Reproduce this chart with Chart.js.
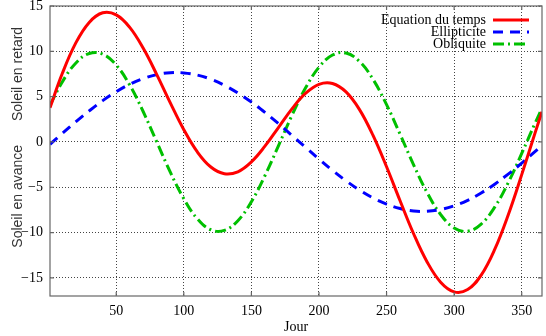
<!DOCTYPE html>
<html>
<head>
<meta charset="utf-8">
<script src="https://cdn.jsdelivr.net/npm/chart.js@4/dist/chart.umd.min.js"></script>
<style>
html,body{margin:0;padding:0;background:#fff;}
#wrap{width:546px;height:336px;}
</style>
</head>
<body>
<div id="wrap"><canvas id="c" width="546" height="336"></canvas></div>
<script>
const days = [1,10,20,30,40,50,60,70,80,90,100,110,120,130,140,150,160,170,180,190,200,210,220,230,240,250,260,270,280,290,300,310,320,330,340,350,360,365];
const equationDuTemps = [3.78,7.52,10.90,13.19,14.25,14.02,12.64,10.33,7.43,4.31,1.35,-1.10,-2.77,-3.51,-3.29,-2.20,-0.47,1.59,3.65,5.35,6.36,6.45,5.52,3.57,0.72,-2.74,-6.49,-10.13,-13.24,-15.47,-16.54,-16.29,-14.69,-11.86,-8.05,-3.61,1.06,3.33];
const ellipticite = [-0.26,0.92,2.21,3.43,4.56,5.54,6.37,7.00,7.43,7.64,7.62,7.38,6.92,6.25,5.40,4.40,3.26,2.02,0.72,-0.59,-1.89,-3.14,-4.29,-5.31,-6.18,-6.86,-7.34,-7.61,-7.65,-7.46,-7.05,-6.44,-5.63,-4.66,-3.55,-2.34,-1.05,-0.40];
const obliquite = [4.04,6.60,8.69,9.76,9.69,8.48,6.27,3.33,0,-3.33,-6.27,-8.48,-9.69,-9.76,-8.69,-6.60,-3.73,-0.43,2.93,5.94,8.25,9.59,9.81,8.88,6.90,4.12,0.85,-2.52,-5.59,-8.01,-9.49,-9.85,-9.06,-7.20,-4.50,-1.27,2.11,3.73];
const xTicks = [50,100,150,200,250,300,350];
const yTicks = [-15,-10,-5,0,5,10,15];
const seriesLabels = ['Equation du temps','Ellipticite','Obliquite'];
const xTitle = 'Jour';
const yTitles = ['Soleil en retard','Soleil en avance'];

const serif = "'Liberation Serif','DejaVu Serif',serif";
const sans = "'Liberation Sans','DejaVu Sans',sans-serif";
const pts = arr => arr.map((v,i)=>({x:days[i], y:v}));

const frame = {
  id:'frame',
  afterDatasetsDraw(chart){
    const {ctx, chartArea:a, scales:{x,y}} = chart;
    ctx.save();
    ctx.strokeStyle = '#666';
    ctx.lineWidth = 1.2;
    ctx.setLineDash([]);
    ctx.strokeRect(a.left, a.top, a.right-a.left, a.bottom-a.top);
    ctx.beginPath();
    const t = 4;
    xTicks.forEach(v=>{const px=x.getPixelForValue(v);
      ctx.moveTo(px,a.bottom);ctx.lineTo(px,a.bottom-t);
      ctx.moveTo(px,a.top);ctx.lineTo(px,a.top+t);});
    yTicks.forEach(v=>{const py=y.getPixelForValue(v);
      ctx.moveTo(a.left,py);ctx.lineTo(a.left+t,py);
      ctx.moveTo(a.right,py);ctx.lineTo(a.right-t,py);});
    ctx.stroke();
    // y titles
    ctx.fillStyle = '#333';
    ctx.font = '14px ' + sans;
    ctx.textAlign = 'center';
    ctx.textBaseline = 'middle';
    const yc = [y.getPixelForValue(7.5), y.getPixelForValue(-6)];
    yTitles.forEach((s,i)=>{
      ctx.save(); ctx.translate(18, yc[i]); ctx.rotate(-Math.PI/2);
      ctx.fillText(s,0,0); ctx.restore();
    });
    // legend
    const ds = chart.data.datasets;
    ctx.font = '14px ' + serif;
    ctx.textAlign = 'right';
    ctx.fillStyle = '#000';
    ds.forEach((d,i)=>{
      const yy = a.top + 14 + i*12;
      ctx.fillText(d.label, 486, yy);
      ctx.strokeStyle = d.borderColor;
      ctx.lineWidth = 3;
      ctx.setLineDash(d.borderDash || []);
      ctx.beginPath(); ctx.moveTo(493, yy); ctx.lineTo(529, yy); ctx.stroke();
    });
    ctx.restore();
  }
};

new Chart(document.getElementById('c'), {
  type:'line',
  data:{
    datasets:[
      {label:seriesLabels[0], data:pts(equationDuTemps), borderColor:'#ff0000', borderWidth:3, pointRadius:0, tension:0.4, fill:false},
      {label:seriesLabels[1], data:pts(ellipticite), borderColor:'#0000ff', borderWidth:3, borderDash:[10,7], pointRadius:0, tension:0.4, fill:false},
      {label:seriesLabels[2], data:pts(obliquite), borderColor:'#00c000', borderWidth:3, borderDash:[11,4,2,4], pointRadius:0, tension:0.4, fill:false}
    ]
  },
  options:{
    responsive:false, animation:false, devicePixelRatio:1,
    layout:{padding:{top:6,right:4,bottom:0,left:0}},
    plugins:{legend:{display:false}, tooltip:{enabled:false}},
    scales:{
      x:{type:'linear', min:1, max:365,
        afterBuildTicks:s=>{s.ticks = xTicks.map(v=>({value:v}));},
        afterFit:s=>{s.height = 40; s.paddingLeft = 0; s.paddingRight = 0;},
        grid:{color:'#444', lineWidth:1, drawTicks:false},
        border:{display:false, dash:[1,2]},
        ticks:{padding:7, color:'#000', font:{family:serif, size:14}, maxRotation:0},
        title:{display:true, text:xTitle, color:'#000', font:{family:serif, size:14}, padding:{top:0,bottom:0}}
      },
      y:{type:'linear', min:-17, max:15,
        afterBuildTicks:s=>{s.ticks = yTicks.map(v=>({value:v}));},
        afterFit:s=>{s.width = 50; s.paddingTop = 0; s.paddingBottom = 0;},
        grid:{color:'#444', lineWidth:1, drawTicks:false},
        border:{display:false, dash:[1,2]},
        ticks:{padding:7, color:'#000', font:{family:serif, size:14},
          callback:v=> v<0 ? '\u2212'+Math.abs(v) : String(v)}
      }
    }
  },
  plugins:[frame]
});
</script>
</body>
</html>
